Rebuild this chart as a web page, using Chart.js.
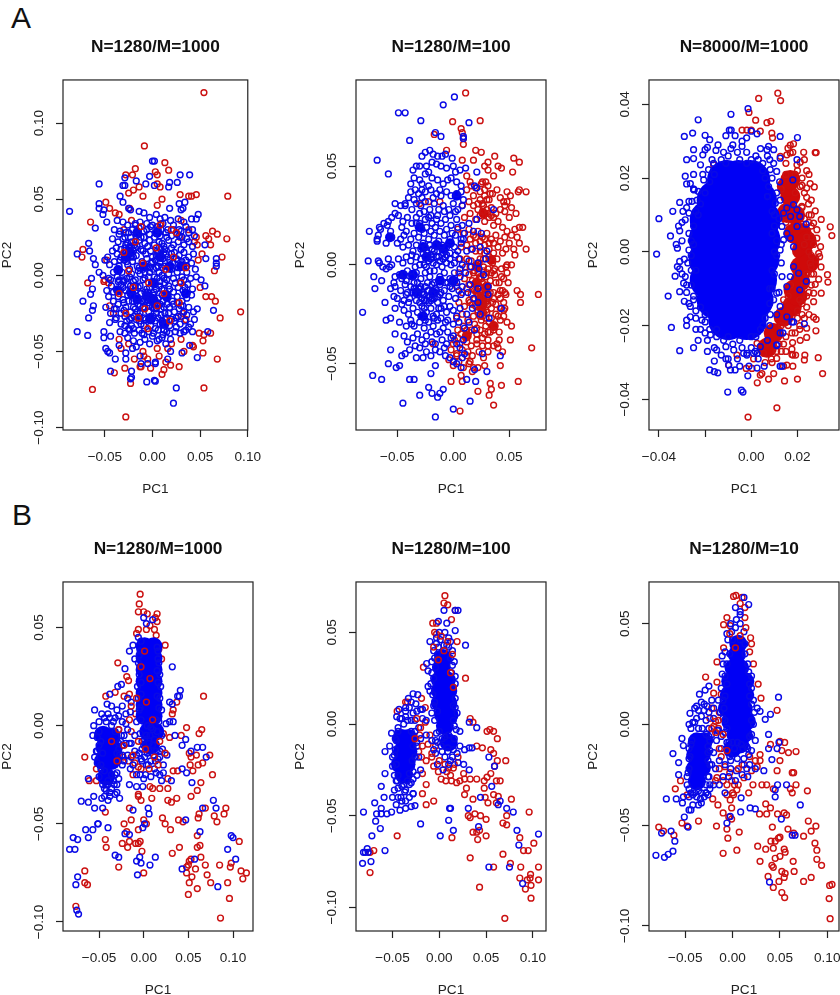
<!DOCTYPE html>
<html><head><meta charset="utf-8">
<style>
html,body{margin:0;padding:0;background:#fff;overflow:hidden;width:840px;height:995px}
.panel{position:absolute}
.letter{position:absolute;font:30px "Liberation Sans",Arial,sans-serif;line-height:30px;color:#111}
</style>
<script src="https://cdn.jsdelivr.net/npm/chart.js@4/dist/chart.umd.js"></script>
</head><body>
<div class="letter" style="left:11px;top:3px">A</div>
<div class="letter" style="left:12px;top:500px">B</div>
<script>
// All point lists are flat x,y pairs in thousandths of the PC1/PC2 axis units.
const titles=["N=1280/M=1000","N=1280/M=100","N=8000/M=1000","N=1280/M=1000","N=1280/M=100","N=1280/M=10"];
const xLabel="PC1", yLabel="PC2";
const a1Xticks=[-0.05,0,0.05,0.10], a1Yticks=[-0.10,-0.05,0,0.05,0.10];
const a2Xticks=[-0.05,0,0.05], a2Yticks=[-0.05,0,0.05];
const a3Xticks=[-0.04,-0.02,0,0.02], a3Yticks=[-0.04,-0.02,0,0.02,0.04];
const b1Xticks=[-0.05,0,0.05,0.10], b1Yticks=[-0.10,-0.05,0,0.05];
const b2Xticks=[-0.05,0,0.05,0.10], b2Yticks=[-0.10,-0.05,0,0.05];
const b3Xticks=[-0.05,0,0.05,0.10], b3Yticks=[-0.10,-0.05,0,0.05];

const a1Red=[54,120,-8.5,85,79,52,92.5,-24,-63,-75,-28,-93,54,-74,68,-55,13,74,17,69,3,68,5,66,-18,70,-21,66,-28,66,-65,35,-73,17,-74,12,-68,-5,78,24,73,12,65,3,66,-17,71,-28,61,-38,63,29,68,27,56,26,59,24,61,20,29,53,38,52,41,52,46,53,53,-51,53,-43,28,-60,19,-59,-29,-61,-40,-64,-23,-71,-12,-60,-2,-61,10,-65,12,-62,-19,-55,-9,-53,-49,48,-45,44,-39,41,-51,-4,-50,-3,-41,-25,49,-38,56,-14,62,-14,54,-39,30,-27,32,-25,35,-29,29,25,46,25,47,20,52,14,5,60,8,58,-14,58,-20,56,-25,54,-10,52,10,50,-24,44,-35,40,-22,36,5,46,9,34,-30,30,-48,10,-46,-5,-45,-20,30,36,38,30,44,22,48,10,50,-8,-35,-42,-25,-45,-10,-50,5,-48,20,-45,30,-42,43,-47,-5,-55,7,-53,14,-57,-13,-60,-33,-48,16,-48,33,-50,42,-46];
const a1RedOver=[-30,15,-25,3,-18,22,-10,8,-4,-5,5,-20,12,-12,20,30,28,-18,35,5,-15,-28,-5,-35,8,33,14,4,-35,-12,-28,-25,22,12,-12,32,30,-5,-8,-22,4,18,-20,-8,18,-30,25,28];
const a1BlueCore=[-24,15.5,8,12,-5,-14,1,-16,-22,-12,18,6,-9,6,-36,3.5,15,-14,-2,-29,12,-32,-28,12,30,6,35,-12,5,28,-16,28,-16,-16,-36,-10,1,-5];
const a1Blue=[-87,42,-56,60,2,75,0,75,-3,65,29,66,39,66,26,61,18,61,17,58,2,59,-7,60,-17,62,-29,64,-31,59,-29,59,-34,52,-31,48,-56,47,-56,44,-51,43,-52,40,-48,35,-60,31,-67,21,-66,16,-79,14,-62,11,-60,7,-56,2,-64,-2,-63,-9,-65,-12.5,-73,-17,-62,-20,-63,-23,-67,-28,-79,-37,-68,-39.5,-51,-37,-51,-41,-44,-40,-35,-46,-49,-48,-47,-50,-45,-51,-39,-55,-28,-51,-28,-55,-21,-48,-17,-47,-13,-53,-12,-58,-5,-58,3,-57,3,-58,-22,-63,-44,-63,-22,-67,-23,-68,-6,-70,2,-69,3,-69.5,25,-74,22,-84,16,-55,19,-50,31,-51,39,-46,47,-54,58,-37,64,-23,55,-7,51,-3,56,11,67,11,67,8,67,6,55,20,48,40,46,37,34,48,28,47,32,44,30,43,18,44,
-25,44,-23,43,-14,42,-9,41,-3,38,4,40,8,37,13,38,19,36,27,37,33,35,41,37,-37,36,-31,35,-26,33,-18,34,-13,35,-6,34,0,33,5,32,11,34,16,30,22,33,28,30,35,32,42,30,-40,30,-34,29,-28,28,-21,30,-15,27,-9,29,-3,27,3,28,8,26,14,28,20,26,26,27,31,25,38,28,44,26,-42,24,-36,22,-31,24,-26,21,-23,25,-19,20,-14,23,-8,21,-3,23,2,20,7,22,12,19,17,23,22,20,27,22,33,20,38,22,42,19,-47,12,-42,16,-37,14,-33,17,-28,15,-25,18,-23,12,-20,16,-17,13,-12,17,-7,14,-2,16,4,13,9,17,11,11,14,14,18,10,23,15,28,13,33,15,38,12,43,14,-50,10,-45,7,-40,9,-35,6,-30,10,-26,7,-21,9,-16,6,-11,9,-6,6,-1,8,4,5,8,9,13,6,18,4,21,8,27,5,31,9,36,6,41,8,45,4,-52,0,-46,-2,-41,2,-37,-1,-32,2,-27,-2,-22,1,-18,-3,-13,1,-8,-2,-3,2,2,-1,7,2,12,-2,17,1,22,-2,26,2,31,-1,36,2,40,-2,46,-1,-48,-10,-43,-7,-38,-9,-33,-6,-28,-10,-23,-7,-18,-10,-13,-7,-8,-11,-3,-8,2,-11,7,-7,12,-10,17,-7,22,-11,27,-8,32,-10,37,-6,42,-9,-46,-14,-41,-17,-36,-14,-31,-16,-26,-13,-21,-17,-16,-14,-11,-17,-7,-13,-5,-18,-2,-15,1,-13,3,-18,6,-15,11,-17,16,-14,21,-17,26,-14,31,-17,36,-15,41,-13,-49,-21,-44,-25,-38,-22,-33,-25,-28,-21,-23,-24,-18,-22,-13,-25,-8,-21,-4,-24,0,-21,4,-25,9,-22,13,-25,18,-21,23,-24,28,-22,33,-24,38,-21,43,-24,47,-22,-45,-31,-39,-29,-33,-32,-27,-30,-22,-33,-17,-29,-12,-32,-7,-29,-2,-33,3,-30,8,-32,13,-29,18,-33,23,-30,29,-32,34,-30,40,-32,44,-29,-34,-37,-29,-38,-24,-36,-19,-38,-14,-36,-9,-39,-4,-37,1,-38,6,-36,11,-39,15,-37,24,-37,29,-38,35,-36,42,-37,-26,-41,-20,-43,-13,-44,-8,-42,-3,-45,5,-43,10,-41,14,-45,19,-42,
-24,19,-21,14,-26,12,-18,18,-22,22,-28,20,-6,11,0,12,6,15,10,21,13,17,20,18,-34,10,-38,18,-15,3,-10,4,-4,-1,1,4,5,-2,10,0,15,-3,20,4,-30,-4,-35,-3,-24,-11,-18,-7,-12,-12,-6,-16,-3,-20,2,-16,6,-20,10,-13,15,-19,-8,-28,-2,-27,4,-22,9,-26,14,-32,-16,-24,-22,-28,-30,-18,-38,-28,-25,-35,-14,-30,25,-28,30,-20,36,-26,27,10,33,6,28,26,-9,25,-14,31,-2,32,6,30,
-33,12,-29,18,-27,9,-24,4,-20,12,-16,19,-10,16,-5,19,0,9,3,10,6,6,9,13,12,15,16,12,20,14,25,11,30,17,35,10,-31,-3,-26,-6,-20,-4,-15,-8,-10,-3,-6,-9,-1,-5,3,-6,8,-4,13,-5,18,-9,24,-5,29,-4,34,-8,-36,-19,-30,-23,-25,-17,-20,-21,-15,-19,-10,-21,-8,-16,-4,-20,-1,-17,2,-22,5,-18,8,-19,12,-21,17,-25,22,-19,27,-27,32,-20,-29,-27,-24,-29,-19,-27,-14,-27,-9,-33,-4,-29,1,-27,6,-28,10,-30,15,-28,20,-29,-18,33,-12,25,-6,30,2,25,9,30,15,25,22,30,30,29,36,24,-35,27,-29,25,-17,26,-41,-11,-36,-4,-40,-22,-44,-3,-29,-33,-20,-35,-11,-38,0,-40,7,-42,12,-36,3,-35,18,-38,25,-34,33,-37,38,-34,-31,-8,-13,-20,-5,-11,4,-9,10,-9,15,-12,26,-18,33,-3,-25,28,5,16,10,5,-3,5,-8,2,-14,5,-24,-1];

const a2RedCore=[24,-18,25,-21,21,-9,30,-11,27,26,21,-1,36,-31,12,-36,34,2.5];
const a2Red=[11,87,-0.6,72.5,24,73,7,69,8,67,9,64,9,61,-17,66,-6,58,20,58,25,57,37,55,54,54,59,52,53,47,31,52,40,50,43,49,28,50,31,48,36,45,18,53,8,53,65,37,59,38,58,37,51,35,48,37,39,38,33,36,29,42,26,42,12,45,15,42,16,40,24,33,27,30,31,26,36,24,45,32,48,32,52,29,56,26,62,19,59,19,55,18,57,14,59,11,65,8,54,8,55,5,52,0,48,0,47,-1,49,-9,57,-13,60,-15,76,-15,60,-19,48,-29,52,-31,51,-38,70,-42,42,-51,28,-51,58,-59,43,-61,33,-60,34,-63,32,-66,36,-71,22,-64,6,-74,-2,-59,8,-59,7,-56,18,-52,15,-49,12,-46,3,-45,0,-40,4,-37,12,-39,21,-40,31,-41,39,-40,40,-42,28,-35,21,-32,36,-33,40,-26,45,-23,24,-26,27,-21,25,-18,22,-15,28,-14,31,-11,21,-13,24,-6,18,-4,15,-1,12,3,27,-1,36,-3,43,-6,42,-13,46,-14,36,-14,24,-19,27,-24,30,-17,27,-19,
12,38,20,39,24,37,28,35,32,33,35,36,42,34,46,30,8,30,14,32,18,30,22,28,26,31,30,28,34,29,38,26,42,28,46,27,50,24,10,24,15,26,20,23,24,25,28,22,32,24,36,20,40,22,44,19,48,17,52,15,4,18,9,16,14,18,18,15,22,17,26,14,30,16,34,13,38,15,42,12,46,14,50,11,7,9,12,10,16,8,20,11,24,7,28,10,32,8,36,6,40,9,44,6,47,8,6,3,11,-1,16,2,19,-3,23,1,27,3,31,-2,35,1,39,3,43,-2,5,-4,10,-7,14,-5,17,-8,20,-10,23,-7,26,-9,29,-6,33,-8,37,-5,41,-9,45,-7,3,-11,8,-14,12,-12,16,-15,19,-13,22,-16,24,-14,26,-17,28,-15,30,-18,33,-14,36,-17,40,-15,44,-13,47,-15,5,-19,10,-21,15,-19,20,-21,23,-19,25,-21,27,-20,29,-23,31,-20,34,-22,38,-20,42,-22,45,-19,3,-27,8,-25,13,-28,18,-26,22,-24,26,-26,30,-24,34,-27,38,-25,42,-28,45,-26,4,-33,9,-31,14,-34,19,-30,24,-33,29,-31,33,-34,37,-31,41,-34,1,-38,6,-40,11,-37,16,-41,21,-38,26,-41,31,-38,36,-41,41,-38,44,-44,-2,-43,3,-46,8,-43,13,-44,17,-46,23,-44,27,-47,31,-44,-4,-48,0,-51,5,-49,9,-52,14,-50,17,-54,22,-52,-30,31,-22,32,-12,32,-18,-40,23,-17,25,-16,27,-18,24,-22,26,-24,29,-19,26,-13,23,-11,25,-7,22,-4,
14,-18,17,-20,19,-17,21,-13,24,-11,28,-12,30,-13,32,-16,35,-19,22,-23,25,-28,29,-27,32,-29,14,-10,18,-12,27,-3,30,-4,34,-4,37,-2,20,7,24,3,28,6,32,4,15,13,20,14,24,12,28,13,32,11,36,11,22,31,26,27,30,33,34,25,28,38,25,41,31,40,18,35,38,-9,42,-17,16,-33,21,-35,26,-37,31,-34,12,-33,7,-35,46,-22,48,-4];
const a2BlueCore=[-56.5,14,-27,9,-15,10,-9,8,-24,4,0,-8,-45,-5,-33,-14,-18,-14,-12,-8,-36,-5,-27,-26,3,35,-30,19,-3,11];
const a2Blue=[-81,-24,-76,2,-75,17,-68,53,-58,46,-49,77,-43,77,-29,73,-9,81,1,85,14,72,-11,65,-16,67,-39,63,9,64,9,65,-72,-56,-64,-58,-58,-50,-51,-52,-48,-51,-56,-43,-52,-35,-60,-28,-56,-27,-61,-19,-70,-12,-71,-6,-64,-8,-68,13,-67,15,-65,18,-68,12,-39,-58,-35,-58,-30,-66,-45,-70,-22,-62,-19,-65,-14,-67,-12,-65,-9,-63,-16,-77,0,-73,15,-69,-20,-55,-16,-51,12,-58,20,-59,30,-54,19,-53,7,-52,42,-46,26,-45,-52,31,
-28,55,-25,57,-21,58,-18,56,-14,55,-10,55,-7,56,-1,54,-36,48,-33,50,-30,50,-24,50,-19,52,-15,51,-11,50,-6,49,0,50,2,47,6,48,11,49,21,47,-38,41,-35,44,-30,43,-25,46,-22,47,-19,44,-14,43,-9,41,-5,43,-2,44,3,42,7,40,19,40,21,39,-43,31,-40,34,-38,37,-34,38,-31,36,-28,38,-25,37,-20,38,-15,36,-11,35,-6,37,-2,35,3,36,7,37,9,33,-47,30,-43,30,-37,28,-33,31,-29,30,-25,32,-21,28,-17,31,-13,28,-9,30,-4,28,0,31,4,28,8,30,36,28,-58,22,-55,24,-52,26,-49,25,-45,22,-41,24,-37,21,-33,24,-30,21,-25,23,-22,24,-19,21,-15,23,-11,21,-7,23,-2,20,3,23,8,20,14,21,21,23,-66,19,-62,21,-59,20,-56,17,-46,19,-44,15,-42,17,-38,13,-35,16,-31,14,-26,16,-22,13,-17,15,-13,12,-8,15,-3,13,2,15,7,13,10,16,18,17,25,16,-60,11,-56,14,-55,14,-50,11,-47,13,-45,9,-40,10,-36,7,-33,10,-29,8,-27,11,-25,9,-23,6,-21,10,-19,8,-16,10,-14,7,-11,9,-9,6,-6,9,-3,6,1,9,4,7,7,11,9,13,12,7,17,8,24,9,30,7,-58,3,-55,0,-49,3,-45,1,-42,4,-38,2,-33,4,-29,3,-26,0,-24,4,-22,2,-20,5,-18,1,-15,4,-12,2,-9,3,-6,1,-3,3,1,1,5,3,8,0,14,2,22,1,29,3,-67,2,-66,1,-63,-1,-60,-2,-57,-1,-52,-6,-48,-5,-46,-7,-44,-5,-41,-3,-37,-6,-33,-4,-29,-7,-25,-4,-21,-6,-17,-3,-12,-6,-8,-4,-3,-7,1,-4,6,-6,11,-4,16,-1,23,-2,27,-5,-56,-12,-53,-9,-52,-11,-47,-13,-43,-10,-41,-14,-38,-11,-35,-9,-31,-12,-28,-14,-25,-11,-22,-13,-19,-10,-15,-13,-12,-10,-8,-13,-5,-9,-1,-12,3,-9,8,-11,15,-10,22,-12,31,-11,-53,-16,-50,-17,-44,-18,-42,-15,-39,-17,-36,-14,-33,-18,-31,-15,-28,-17,-26,-15,-24,-18,-21,-16,-19,-15,-17,-17,-14,-16,-9,-18,-4,-16,2,-17,7,-15,13,-14,18,-17,22,-19,31,-15,-52,-22,-44,-23,-40,-25,-36,-22,-32,-24,-28,-21,-24,-24,-20,-22,-15,-25,-11,-22,-6,-24,0,-23,6,-22,12,-25,17,-22,24,-25,32,-27,43,-22,-48,-29,-42,-31,-38,-28,-35,-31,-30,-29,-26,-32,-22,-29,-18,-31,-14,-28,-9,-32,-5,-28,0,-30,5,-29,10,-32,14,-29,19,-33,-44,-36,-41,-39,-36,-37,-32,-35,-28,-38,-24,-36,-19,-39,-15,-35,-10,-38,-6,-40,-2,-37,3,-40,9,-38,-46,-46,-43,-45,-39,-43,-33,-47,-30,-42,-27,-47,-24,-44,-20,-46,-16,-43,-12,-44,-7,-46,-3,-47,0,-49,3,-50,8,-47,6,-42,10,-45,-24,7,-20,3,-17,7,-13,4,-10,10,-7,4,-27,-15,-23,-13,-19,-17,-16,-12,-12,-15,-30,-12,
-37,5,-34,-1,-30,0,-27,6,-24,-1,-21,-3,-19,4,-15,0,-10,-1,-6,5,-2,0,2,5,6,-2,-35,-12,-32,-9,-29,-11,-26,-18,-23,-9,-20,-18,-17,-9,-14,-19,-11,-14,-7,-9,-3,-11,1,-8,5,-13,-33,21,-28,18,-24,19,-20,17,-16,19,-12,17,-6,18,-1,16,4,19,-30,-19,-26,-22,-22,-19,-18,-26,-13,-22,-8,-21,-3,-21,3,-26,-29,-26,-25,-28,-17,-27,-11,-27,-7,-29,-30,26,-26,27,-20,25,-14,25,-8,27,-3,25,2,27,-35,33,-28,34,-18,34,-12,38,-22,40,-28,41,-42,-8,-46,-20,-40,-19,-37,-30,-20,-34,-12,-34,-5,-34,0,-36,-34,-41,-25,-40,-16,-40,-8,-42];

const a3RedCore=[16.9,15,15.4,10.5,18.3,5,21.9,5,21.9,0.5,21.2,-4,18.3,-10.3,17.6,-14.8,14,-17.6,9.7,-22,15.4,17.7,21.2,-8,24,3,16.9,19.5,6.8,-26,25,-3,19,10,20,-12];
const a3Red=[11.5,43,12.7,41,3.2,41.6,-1,37.8,1.9,35.7,6.8,35,8.5,35.4,-4,33,-1.9,33,0,33,3.9,32.7,8.9,32.2,9.2,30.9,18.3,29.3,16.9,28.9,15.9,28.1,22.7,27,27.7,26.9,28.1,26.9,12.6,25.9,15.4,26.3,16.9,26.8,21.2,24.3,19.8,23.6,25.5,18.5,27.3,17.6,24,17.3,21.2,17.7,24,14.8,24.8,13,27.7,11.1,21.9,12.3,30.3,8.8,34.2,6.8,34.9,4.4,28.4,6,27,7.8,28.4,3.7,30,1.4,29.2,-0.4,29.6,-1.3,30.2,-4.1,25.5,-3,33,-6.2,33.2,-8.2,29.2,-7.4,27.7,-8.8,27,-11.2,30.3,-11.2,27,-13.5,27,-17.7,28.1,-18.3,28,-21.4,24,-20.7,24,-23.2,21.2,-24,17.6,-22,17.9,-24.6,17.6,-26.4,17.6,-27.8,19.2,-28,23.2,-28,23,-29.3,29,-28.7,30.9,-33,20,-34.5,14.4,-35,9.7,-33,7.5,-34.5,3.9,-33.4,2.6,-35.5,4.6,-33,11.1,-42.3,-1.4,-44.8,8.7,-29,15.4,-30.7,11,-28.9,6.8,-24.8,5.3,-27.5,-9.8,-30.7,0.3,-31.6,-2.2,-31.6,2.5,-24.8,-6.2,-28,-16.3,23.6,22,20,24,22,19,21,26,10,25,8,26,4,26,-1,26,-6,25,-11,22,-14,23,-18,20,-18,21,-21,15,-23,15,-27,12,-25,18,-31,13,-27,
20,22,23,25,25,21,22,18,19,16,23,16,26,14,22,12,25,10,23,9,26,7,22,7,24,4,27,2,23,2,25,0,28,-2,26,-4,24,-6,27,-6,23,-9,26,-9,24,-12,21,-13,24,-15,22,-17,25,-17,20,-16,21,-20,19,-22,16,-20,14,-25,18,-28,11,-27,9,-30,14,-31,6,-30,1,-29,15,24,18,27,15,21,13,17,14,12,15,8,14,-13,16,-12,13,-20,17,-9];
const a3BlueCore=[-10.5,19.5,-5.5,19.5,-0.4,19.5,-15,14,-6,14,2.5,14,-18,8.7,-7,8.7,4,8.7,-18.5,3.3,-8,3.3,4,3.3,-18.5,-2,-8,-2,3.5,-2,-18,-7.6,-7,-7.6,2.5,-7.6,-15,-13,-6,-13,1,-13,-10,-18.5,-2,-18.5,-12,14,-13,-2,-13,3.3,-13,8.7,-13,-7.6,-1,14,-1.5,3.3,-1.5,-2,-1.5,8.7,-1,-7.6];
const a3Blue=[-41,-0.6,-40,9,-35,4.3,-34,11,-31,13.4,-29.6,11,-31.5,7,-31,5.7,-32.5,2,-32,1,-31,-2.6,-32,-4,-33,-6.6,-31,-4.6,-36,-12,-31,-10.8,-29,-13.4,-34.6,-20.5,-28,-18.5,-28,-20,-31,-26.8,-25,-26,-24,-21,-22,-21,-19,-24,-16,-26,-16,-29.6,-18,-32,-16,-32.5,-14.5,-32.8,-11,-29,-10,-29,-9,-32,-7,-32,-5,-31,-1.5,-33.6,-10.2,-38,-4.3,-37.5,-3.6,-38,1,-27.5,2.5,-31.5,5.6,-31,12.5,-31,11,-25.4,23,-19.5,17.6,-19,-29,31.3,-25.4,32.2,-23,35.8,-25,27.7,-20,31.6,-18,30.4,-28,25,-25,25.3,-21,26.3,-19,28.3,-20,27.7,-14.4,29,-15.3,27.5,-11,31.5,-9.5,33,-8.7,33,-8.8,37.3,-7,31.5,-1.4,38.8,-4,28.6,-2,30.9,0,32.7,2.5,32,-8.8,28,12.5,31.3,20,31,19.8,25,9.7,27.7,7.5,28.6,-28.6,20.5,-25,21,-28,18.4,-26.4,18.5,-24.7,16.8,-27,13.7,-25.7,13.7,-23.5,14,-23,16.4,-20.6,19.5,-18.5,22.3,-16.3,24,-22,23.6,-28.6,8.7,-27,10.5,-27,5,-27,0.5,-27.5,-3,-28.6,-6.7,-29.3,-8.5,-28,-11,-26.4,-14.8,-26.4,-17.6,-21.4,-18.5,-20,-22,-17.7,-22.5,-15,-26.6,-11,-25.7,-7.6,-26.6,-9.8,-30.7,-1.9,-28,-3.3,-27.5,3.9,-25.7,18,19.5,18.3,12.8,15.4,11.9,19.8,11.4,12.5,14,10.4,13.2,21,9.6,19.8,6.9,23.8,7.5,17,9.6,14,10.5,15.4,5,13.3,6.9,18.3,1.4,16.9,3.7,14,3.3,12.5,0.5,18.3,-4,20.5,-5.8,23.8,-8,16.9,-6.7,15.4,-9.4,21,-10.3,13.3,-6.7,11,-11.2,12.5,-14.8,15.4,-17.6,18.3,-19,9.7,-13,8.2,-17,12.5,25.4,12.3,19,9.7,24,8.2,22.3,11,21.8,7.5,17.7,6.8,27.7,12.5,-22,13.3,-31,11,-25.2,13.7,-22,1.7,-27,2.5,-27.5,-1.9,-27.5,10,10,9,5,10,0,9,-5,8,-10,7,15,5,22,3,25,-11,24,-5,25,0,25,-25,17,-23,10,-25,2,-24,-5,-25,-12,-20,-17,-15,-23,-10,-23,-5,-24,0,-23,5,-20,
-10,26,-6,27,-2,27,2,26,5,24,-13,25,-16,21,-18,19,-20,16,-22,13,-24,11,-25,7,-26,3,-26,-1,-26,-5,-26,-9,-25,-13,-24,-16,-22,-15,-20,-19,-18,-21,-15,-21,-12,-24,-8,-25,-4,-26,0,-26,6,20,7,15,9,11,10,7,11,3,11,-1,10,-6,9,-10,8,-14,6,-18,4,-21,2,-23,-12,27,-8,29,-4,30,-2,24,4,28,8,25,-17,25,-21,21,-25,17,-28,12,-30,8,-30,3,-29,-2,-30,-6,-28,-9,-27,-14,-24,-18,-23,-24,-19,-27,-13,-28,-6,-29,-1,-31,3,-29,7,-24,8,-20,11,-17,12,-11,13,-3,13,2,12,9,11,16,9,20,7,26];

const b1Red=[-4,67,-5,62,-6,58,0,58,4,57,15,57,13,55,15,53,7,51,-6,49,-8,47,3,49,12,49,14,46,24,41,-29,32,17,39,20,34,-19,25,-17,23,67,15,-32,17,-42.5,15,-22,15,-16,16,37,12,33,8,32,6,48,-1,65,-2,62,-4,42,-5,29,-6,22,-4,-14,-3,-9,6,74,-15,77,-25,-66,-16,-53,-22,-61,-28,-53,-28,-23,-16,-17,-18,-10,-19,-6,-21,-3,-22,-12,-25,7,-31,10,-32,18,-32,27,-32,27,-27,33,-23,38,-23,51,-14,59,-15,53,-16,61,-20,66,-19,52,-20,55,-23,64,-29,60,-33,53,-36,37,-37,27,-38,31,-39,9,-37,-6,-35,-6,-36,-3,-38,-16,-42,-43,-44,-22,-50,-14,-48,-19,-54,-6,-53,0,-48,3,-50,21,-47,24,-50,30,-53,39,-48,44,-49,62,-45,61,-47,69,-42,79,-46,82,-49,90,-45,92,-42,60,-56,60,-62,63,-61,40,-62,32,-65,-9,-60,-6,-60,-4,-59,-16,-59,-24,-60,-18,-62,-43,-58,-42,-62,-2,-64,-28,-72,0,-75,-66,-74,-66,-80,-63,-81,-76,-92,51,-69,53,-68,50,-71,48,-72,64,-67,69,-71,58,-73,48,-75,71,-76,75,-80,54,-77,51,-80,60,-83,50,-86,85,-71,98,-70,97,-72,94,-80,96,-88,86,-98,107,-59,109,-74,115,-75,111,-78];
const b1RedOver=[1,38,7,24,3,12,-14,10,-28,-2,-36,-8,-22,-10,-12,-15,-6,-8,2,-12,12,-16,18,-8,-30,-18,-16,3,10,3,6,-22,-8,14,-3,30,16,-20,24,-14];
const b1BlueCore=[1,40.4,11,40.4,1,34.5,11,34.5,1,28.5,11,28.5,1,22.6,11,22.6,1,16.6,11,16.6,1,10.7,11,10.7,1,4.8,11,4.8,-45.5,-4.6,-36,-6,-43.7,-11.4,-34,-12,-45.5,-18,-36,-18,-42,-26,5,-3,13,-3,8,-10];
const b1Blue=[-83,-63,-77,-63,-79,-57,-74,-58,-65,-53,-62,-57,-57,-53,-51,-50,-51.5,-50,-40,-52,-74,-77,-76,-81,-75,-94,-73,-96,-32,-66,-28,-67,-21,-55,-16,-55.5,-8,-69,-3,-70,-4.5,-67,-7,-76,7,-71,13,-67,-12,-43,5,-42,6,-45,-1,-52,1,-50,47,-48,63,-54,43,-73,57,-68,83,-82,94,-63,98,-56,100,-57,103,-68,78,-38,81,-42,66,-42,48,-24,54,-29,43,-22,66,-11,60,-11,53,-13,70,-16,47,-7,43,-10,32,11,32,30,41,18,40,15,38,15,29,12,33,2,29,2,35,-5,-55,8,-56,0,-57,-5,-47,6,-53,-13,-55,-16,-62,-27,-70,-38.5,-62,-39,-56,-36,-55,-42,-46,-42,-27,-37,-32,-35,-16,-30,-8,-31,-1,-31,20,-28,31,-28,-21,29,-12,41,-16,38,-10,34,0,55,3,52,10,54,-29,20,-25,21,-38,16,-41,11,
-6,45,-4,38,-6,32,-5,26,-7,20,-6,14,-5,8,-8,2,16,38,17,32,18,26,19,20,18,14,20,8,17,2,15,-3,20,-5,25,1,-4,-4,1,-7,7,-5,-10,-5,-2,-12,4,-14,10,-10,14,-13,-14,-9,-8,-15,-3,-17,3,-20,8,-18,13,-18,18,-16,22,-20,26,-15,-4,-25,2,-25,8,-26,14,-24,-20,-9,-25,-5,-18,-2,-24,2,-20,6,-14,12,-18,14,-24,10,-30,8,-36,10,-40,6,-34,2,-28,-12,-24,-15,-28,-18,-24,-20,-30,-24,-34,-28,-30,-30,-36,-32,-42,-33,-46,-30,-50,-26,-48,-22,-52,-19,-50,-10,-46,-14,-40,-38,-38,-36,-44,-36,-47,-37,-40,-30,-30,-14,-26,-8,-28,-2,-32,4,-38,4,-44,4,-50,2,-52,-6,-50,-3,
-3,43,-5,36,-4,30,-3,22,-3,16,-4,9,-3,3,15,40,16,34,15,28,16,22,15,15,17,9,14,3,4,0,10,-2,0,-10,6,-9,12,-7,18,-13,-2,-8,3,-5,8,-1,-5,-14,1,-16,6,-13,11,-15,16,-17,21,-12,-10,-13,-16,-9,-14,-16,-12,-20,-22,-5,-20,1,-15,7,-28,5,-24,-10,-27,-15,-18,-15,-22,-18,-32,-25,-36,-25,-40,-28,-44,-23,-48,-20,-38,-34,-42,-30,-33,-30,-28,-27,-30,-34,-28,-9,-32,-3,-36,0,-42,2,-48,-8,-52,-13,-44,-32,0,-27,5,-20,-2,-18,12,-22,18,-25,22,-24,-8,-25,-15,-22];

const b2Red=[6,70,5,66,9,65,17,62,13,57,-7,55,-3,55,19,45,28,25,-17,31,8,34,-3,49,-5,50,-36,12,-34,12,-45,7,-19,14,-15,9,33,3,36,1,54,-3,51,-4,58,-4,62,-8,40,-12,46,-13,55,-14,58,-16,71,-20,62,-20,59,-23,55,-27,51,-29,48,-31,61,-31,65,-31,40,-30,33,-30,27,-30,22,-31,18.5,-32,13,-31,7,-31,2,-30,26,-27,29,-35,27,-38.5,-18,-38,-14,-44,-6,-42,-14,-33,36,-41,48,-35,49,-40,52,-43,61,-43,58,-38.5,63,-39.5,77,-41,72,-50,68,-54,72,-55,96,-48,31,-50,33,-51,38,-49,44,-50,50,-52,36,-59,40,-59,43,-58,50,-61,41,-63,13.5,-62,-45,-61,-70,-69,-74,-70,-74,-81,33,-73,68,-71,58,-78,76,-76,87,-78,106,-78,86,-84,106,-85,97.5,-82,97,-84,94,-85,98,-88,92,-90,98,-95,43,-89,70,-106,86,-62,101,-65,90,-69,95,-69,-18,-27,-22,-15,-19,-18,-14,-20,-12,-11,-10,-6,-21,-6,-15,1,6,-22,10,-24,15,-24,-6,-23,-1,-26,8,-26,12,-28,16,-22,20,-18,-8,-16,-4,-12];
const b2RedOver=[2,48,9,45,5,40,14,38,-1,35,12,28,-6,42,15,20,-20,-2,-24,3,-26,-8,-18,-12,-8,-18,0,-20];
const b2BlueCore=[4,36,2.5,30.5,0.7,24,8,24,0.7,18,9.6,18,0.7,11.5,9.6,11.5,4,5,11,5,6,-1,-40,-7.6,-33,-7.6,-40,-15,-33,-15,-42,-22,-35,-22,-38,-27.6,10,-10];
const b2Blue=[-81,-48,-82,-76,-73,-75,-81,-70,-77,-68,-79,-70,-76,-70,-58,-69,-72,-61,-63,-57,-68,-53,-67,-49,-69,-43,-62,-46,-62,-49,-56,-49,-51,-48,-59,-40,-62,-34,-58,-27,-58,-15,-53,-12,-51,-5,-45.5,4,-43,8,-28,16.5,-23,16,-26,-44.5,-20,-54.5,1,-61,10,-52.5,11,-46,12,-46,15,-58,31,-46,42,-56,44,-40,63,-44,65,-42,72,-46,79,-48,83,-58,85,-66,106,-60,89,-87,53,-78,75,-78,56,-34,53,-18,59,-23,32,-25,40,-2,32,1,28,43,20,62,17,62,5,62,-1,56,8,55,17,51,-10,45,-13.5,33,-12,29,-12,20.5,
-3,47,0,50,6,50,10,47,-6,40,-1,42,5,43,10,42,14,40,-8,34,-5,36,12,36,16,34,-8,28,-6,25,13,28,17,26,-9,22,-7,16,15,20,17,14,-6,10,-8,6,15,10,19,6,-5,2,-3,-5,15,2,18,-3,-2,-10,3,-8,10,-6,16,-8,22,-4,-4,-16,3,-15,9,-13,15,-14,22,-12,27,-14,32,-13,35,-13,-2,-22,6,-18,12,-20,20,-21,26,-22,-20,8,-18,3,-25,11,-28,6,-32,9,-36,7,-30,2,-44,-4,-47,-8,-47,-14,-50,-18,-50,-23,-48,-28,-46,-31,-44,-35,-40,-34,-36,-36,-32,-33,-28,-30,-24,-28,-20,-25,-22,-18,-24,-10,-26,-4,-48,-36,-50,-40,-44,-40,-40,-42,-36,-42,-32,-40,-28,-38,-42,-47,-46,-44,-36,-46,-30,-45,-38,0,-34,2,-26,2,-42,3,
-3,44,1,46,8,43,12,45,-4,31,-2,38,14,32,17,22,-10,18,-5,12,-2,7,17,9,16,-1,0,-4,-4,-9,-6,-14,2,-12,6,-7,9,-15,14,-18,19,-16,-8,-9,-14,-6,-14,2,-18,8,-24,7,-22,-2,-24,-12,-26,-18,-28,-26,-30,-32,-34,-31,-38,-33,-44,-28,-46,-22,-48,-17,-46,-9,-44,-2,-40,3,-36,4,-30,-4,-28,-12,-29,-20,-32,-27,-37,-37,-41,-40,-45,-31,-28,-38,-20,-8,-30,12,-33,14,-36,9,10,-22,4,-25];

const b3Red=[3.5,64,1,63.5,10,63,13,58,8,60,-6,53,13,53,-9.5,49.5,-2.5,49,-9.5,38,-16.5,31,-28.5,23.5,19,43,18,36,22,30,27,20,30,13,47,7,20,40,-16.5,21,-20,15.5,-18,1.5,-20,-1,-15,-2,-60.5,-32,-55,-28,-48,-35,-53.5,-49,-48,-50.5,-36,-48,-78,-51,-73,-53,-62,-55,-21,-37,-15.5,-40,-10,-44,-4,-46,-1,-47,-17,-50.5,-6,-52,-5,-56.5,-10,-64,4.5,-62.5,7,-53.5,-1,-41.5,-2.5,-37.5,1,-35,4.5,-32.5,-16.5,-26.5,-18,-28,-6,-30,-1,-28,12,-26.5,17,-34,21.5,-30,20,-23,26,-21,29,-18,29,-15,40,-10,50,-8.5,55,-9,59,-14,67,-13.5,52,-13,50,-18,47,-23,63,-24,64.5,-24,31,-30,36,-30,43,-32,61,-32,63,-34,67,-30,79,-33,28.5,-44.5,36,-44.5,40,-41.5,35,-39.5,47.5,-44.5,54.5,-44,57,-45,42,-51,58.5,-52,64.5,-54,75,-55.5,80,-48,83,-53,88,-50.5,87,-59,89,-62.5,89,-67,94,-70,26.5,-60.5,35,-62,29,-68,40.5,-58,45,-58,48.5,-56.5,50,-56,43,-61.5,54.5,-62,55.5,-63.5,50,-65.5,45,-66.5,41.5,-70,43,-71,64,-68,65,-73,52,-73,55.5,-74,54.5,-76,49,-78,37.5,-75.5,43,-81,52,-83.5,55,-86,75,-78,83,-76,102.5,-80,105,-79.5,102,-86.5,103,-96.5,-3,-24,2,-30,6,-30,-6,-35,0,-34,-10,-28,-14,-22,-12,-16,-8,-21,12,-20,18,-16,24,-18,-22,8,-24,3,-14,6,-12,15];
const b3RedOver=[-10,-5,-6,-13,-18,-4,-14,-12,3,38,-3,45,8,44,14,48,-15,2,-22,-2,6,-22];
const b3BlueCore=[6,40,4.5,34.6,1,28,8,28,-2.5,21.4,6.3,21.4,13.4,21.4,-4,14.7,4.5,14.7,13.4,14.7,-6,8,3,8,11.6,8,-2.5,1.5,6.3,1.5,15,1.5,3,-5,11.6,-5,-37.7,-8.4,-30.6,-8.4,-39.4,-15,-32.4,-15,-39.4,-21.7,-32.4,-21.7,-37.7,-28.3,8,-10,0,-12];
const b3Blue=[-81,-65,-72,-66,-68,-64.5,-63,-63,-61,-58,-75,-54,-65,-53,-51,-46,-47,-51,-70,-37,-59.5,-37,-53,-39,-52,-36,-46,-42.5,-44,-42.5,-33,-39,-63,-14.5,-57,-19,-57,-25,-53.5,-7,-52,-10.5,-45,5.5,-40,8,-35,15,-29,17,48.5,13.5,40,5,34.5,2.5,38,-5,49,-9,47,-12,38,-12,41.5,-17.5,33,-23,47.5,-30,57,-30,45,-32.5,45,-36,71.5,-40,18.5,-41.5,24,-42,8.5,-43.5,9,-36.5,-8,-34,-2.5,-45.7,-6,-49,63,-55,66,-55,51.5,-47,39,-78.3,17,59.5,12,63,3,58,8,54.5,-6,45,-11,34,-25,19,29,6.5,26,8,20,-13,
-2,50,3,48,8,50,12,46,-5,42,0,42,8,42,13,40,-8,36,13,35,16,30,-10,30,-8,24,-11,25,20,24,-12,18,-10,12,20,18,-13,6,-10,3,22,12,23,6,22,0,-15,-3,-8,-4,-4,-9,20,-5,-5,-14,2,-12,9,-10,15,-11,24,-8,-8,-20,-2,-18,5,-17,12,-17,18,-20,24,-22,-12,-12,-14,-18,-20,-14,-10,-26,-4,-26,3,-28,10,-25,16,-26,-17,-8,-22,-5,-25,-2,-28,2,-25,6,-20,8,-22,12,-15,12,-30,10,-36,7,-38,3,-33,4,-27,9,-26,-14,-24,-8,-24,-20,-26,-26,-24,-30,-28,-34,-33,-34,-38,-36,-42,-35,-46,-32,-48,-26,-46,-22,-45,-16,-46,-12,-43,-8,-44,-2,-46,0,-40,1,-46,-36,-42,-40,-36,-40,-30,-36,-26,-35,-24,-32,-28,-30,
-6,30,-3,35,-6,20,-8,14,-9,8,-8,2,-6,-2,17,26,18,20,18,14,20,10,20,2,18,-6,16,-12,-3,-16,-6,-9,0,-9,5,-9,11,-12,17,-15,-2,-22,4,-23,10,-20,15,-22,-12,-6,-16,-3,-20,3,-25,-6,-24,-13,-22,-20,-18,-22,-14,-30,-20,-30,-44,-10,-46,-17,-47,-24,-48,-30,-44,-34,-40,-34,-36,-33,-34,-37,-28,-34,-25,-26,-26,-18,-26,-11,-28,-5,-32,-2,-36,-2,-42,1,-38,9,-33,11,-30,7,8,56,4,52,-1,46];

function pts(flat){const o=[];for(let i=0;i<flat.length;i+=2)o.push({x:flat[i]/1000,y:flat[i+1]/1000});return o;}

const RED="#cb1111",BLUE="#0a0ae6",SOLID="#0000f5",SOLIDRED="#cf0a0a";
function rings(flat,color){return {data:pts(flat),borderColor:color,backgroundColor:"rgba(0,0,0,0)",pointRadius:2.9,pointBorderWidth:1.45,pointHoverRadius:2.9,showLine:false};}
function mass(flat,color,r){return {data:pts(flat),borderColor:color,backgroundColor:color,pointRadius:r,pointBorderWidth:0,pointHoverRadius:r,showLine:false};}

const frame={id:"frame",afterDatasetsDraw(c){const a=c.chartArea,x=c.ctx;x.save();x.strokeStyle="#222";x.lineWidth=1.2;x.strokeRect(a.left,a.top,a.right-a.left,a.bottom-a.top);x.restore();}};

function fmt(hide){return function(v){if(hide&&Math.abs(v-hide)<1e-9)return "";return v.toFixed(2).replace("-","\u2212");};}

function panel(o){
  const c=document.createElement("canvas");
  const w=74+190+20,h=50+o.h+70;
  c.width=w;c.height=h;c.className="panel";
  c.style.cssText=`position:absolute;left:${o.l-74}px;top:${o.t-50}px;width:${w}px;height:${h}px`;
  document.body.appendChild(c);
  const font={family:'"Liberation Sans",Arial,sans-serif',size:13.6};
  new Chart(c,{type:"scatter",data:{datasets:o.sets},plugins:[frame],options:{
    responsive:false,animation:false,events:[],devicePixelRatio:1,
    layout:{autoPadding:false,padding:{left:0,top:0,right:20,bottom:0}},
    plugins:{legend:{display:false},tooltip:{enabled:false},
      title:{display:true,text:o.title,fullSize:false,color:"#111",
        font:{family:font.family,size:17.3,weight:"bold"},padding:{top:7,bottom:22.2}}},
    scales:{
      x:{type:"linear",min:o.x[0],max:o.x[1],
        afterFit(s){s.height=70;},
        afterBuildTicks(s){s.ticks=o.xt.map(v=>({value:v}));},
        border:{display:false},
        grid:{drawOnChartArea:false,drawTicks:true,tickLength:7,tickColor:"#222",tickWidth:1.2},
        ticks:{autoSkip:false,maxRotation:0,padding:12,color:"#222",font,callback:fmt(o.hideX)},
        title:{display:true,text:xLabel,color:"#222",font,padding:{top:3,bottom:3}}},
      y:{type:"linear",min:o.y[0],max:o.y[1],
        afterFit(s){s.width=74;},
        afterBuildTicks(s){s.ticks=o.yt.map(v=>({value:v}));},
        border:{display:false},
        grid:{drawOnChartArea:false,drawTicks:true,tickLength:7,tickColor:"#222",tickWidth:1.2},
        ticks:{autoSkip:false,minRotation:90,maxRotation:90,padding:0,crossAlign:"center",color:"#222",font,callback:fmt()},
        title:{display:true,text:yLabel,color:"#222",font,padding:{top:10,bottom:10}}}
    }}});
}

// The first dataset is painted last in Chart.js, so the top layer is listed first.
panel({l:63,t:80,h:350,title:titles[0],x:[-0.0939,0.10],y:[-0.1016,0.1283],xt:a1Xticks,yt:a1Yticks,
  sets:[rings(a1RedOver,RED),rings(a1Blue,BLUE),mass(a1BlueCore,SOLID,5),rings(a1Red,RED)]});
panel({l:356,t:80,h:350,title:titles[1],x:[-0.0869,0.0828],y:[-0.0836,0.0936],xt:a2Xticks,yt:a2Yticks,
  sets:[rings(a2Blue,BLUE),mass(a2BlueCore,SOLID,5),rings(a2Red,RED),mass(a2RedCore,SOLIDRED,5)]});
panel({l:649,t:80,h:350,title:titles[2],x:[-0.0443,0.038],y:[-0.0483,0.0466],xt:a3Xticks,yt:a3Yticks,hideX:-0.02,
  sets:[rings(a3Blue,BLUE),mass(a3BlueCore,SOLID,20),rings(a3Red,RED),mass(a3RedCore,SOLIDRED,10)]});
panel({l:63,t:582,h:349,title:titles[3],x:[-0.0904,0.1224],y:[-0.1046,0.0732],xt:b1Xticks,yt:b1Yticks,
  sets:[rings(b1RedOver,RED),rings(b1Blue,BLUE),mass(b1BlueCore,SOLID,9),rings(b1Red,RED)]});
panel({l:356,t:582,h:349,title:titles[4],x:[-0.089,0.114],y:[-0.1129,0.0775],xt:b2Xticks,yt:b2Yticks,
  sets:[rings(b2RedOver,RED),rings(b2Blue,BLUE),mass(b2BlueCore,SOLID,9),rings(b2Red,RED)]});
panel({l:649,t:582,h:349,title:titles[5],x:[-0.0883,0.1124],y:[-0.1026,0.0707],xt:b3Xticks,yt:b3Yticks,
  sets:[rings(b3RedOver,RED),rings(b3Blue,BLUE),mass(b3BlueCore,SOLID,9),rings(b3Red,RED)]});
</script>
</body></html>
